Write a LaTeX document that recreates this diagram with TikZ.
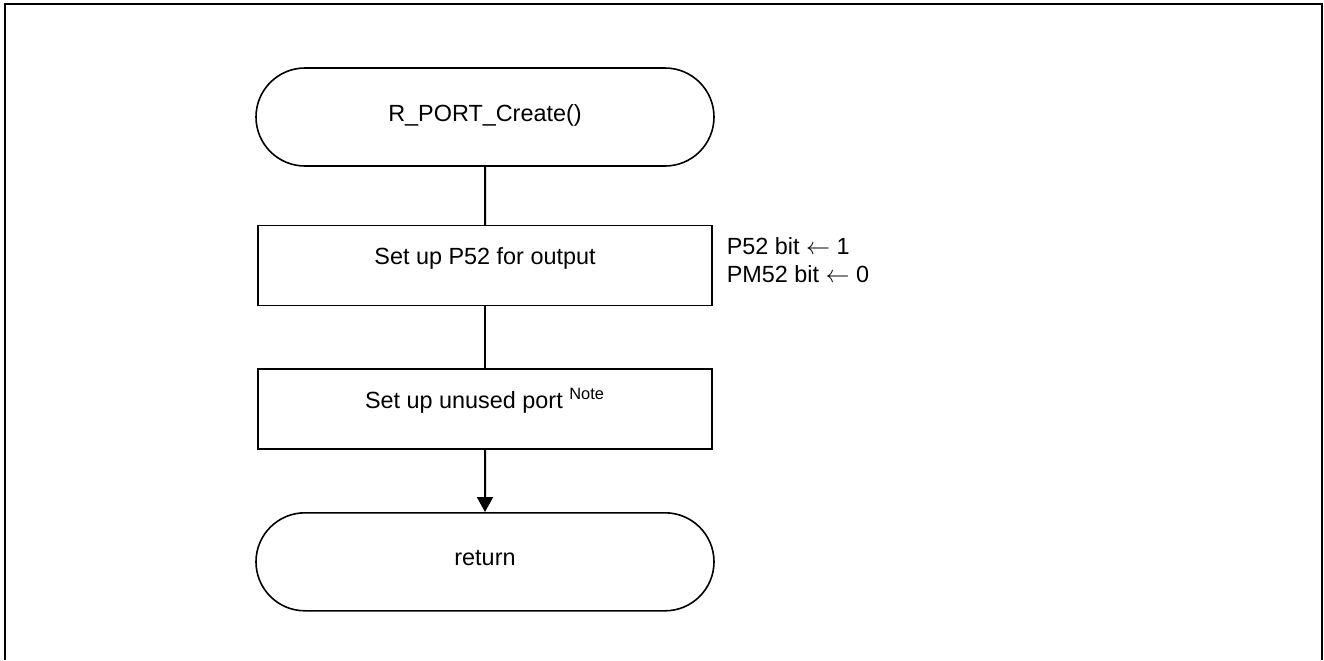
\documentclass[tikz,border=0pt]{standalone}
\usepackage{fontspec}
\setmainfont{Liberation Sans}
\usetikzlibrary{positioning,chains,arrows.meta,shapes.misc}
\tikzset{
    terminal/.style={
        draw, rounded rectangle, line width=0.8pt,
        minimum width=229pt, minimum height=49pt,
        inner sep=0pt, text height=9pt, text depth=5pt
    }
}

\begin{document}
\begin{tikzpicture}[
        process/.style={
            draw, rectangle, line width=0.8pt,
            minimum width=227pt, minimum height=40pt,
            inner sep=0pt, text height=9pt, text depth=10pt
        },
        note/.style={
            align=left, inner sep=0pt, anchor=north west
        },
        font=\fontsize{11.7pt}{14pt}\selectfont,
        start chain=going below, node distance=31pt, line width=1pt
      ]

    \useasboundingbox (0pt,0pt) rectangle (662pt,-330pt);
    % frame, open at the bottom
    \draw (2.5pt,-330pt) -- (2.5pt,-2pt) -- (660.8pt,-2pt) -- (660.8pt,-330pt);

    \node[terminal,on chain] (start) at (242.5pt,-58.5pt) {R\_PORT\_Create()};
    \node[process,node distance=29pt,on chain] (setp) {Set up P52 for output};
    \node[process,on chain]  (unused) {Set up unused port \textsuperscript{Note}};
    \node[terminal,on chain] (ret)    {return};

    \node[note] (bits) at ([shift={(6.5pt,-6pt)}]setp.north east)
        {P52 bit $\leftarrow$ 1\\PM52 bit $\leftarrow$ 0};

    \draw (start) -- (setp);
    \draw (setp) -- (unused);
    \draw[-{Triangle[length=7.5pt,width=8pt]}] (unused) -- (ret);

\end{tikzpicture}
\end{document}
